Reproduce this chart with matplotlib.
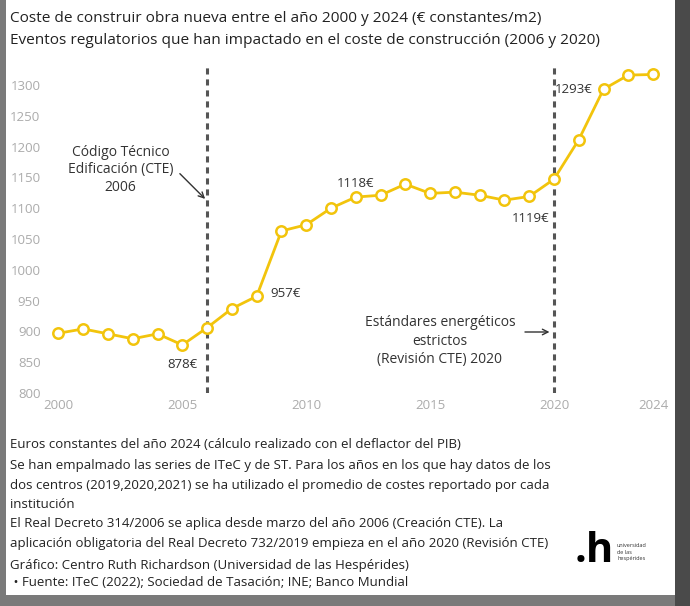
import matplotlib.pyplot as plt
from matplotlib.patches import Rectangle

plt.rcParams['font.family'] = ['Open Sans', 'DejaVu Sans']

# coste de construccion (EUR constantes 2024 / m2)
years = list(range(2000, 2025))
coste = [897, 904, 896, 888, 896, 878, 906, 937, 957, 1063, 1073, 1100, 1118,
         1121, 1139, 1124, 1126, 1121, 1113, 1119, 1147, 1211, 1293, 1316, 1317]
xticks = [2000, 2005, 2010, 2015, 2020, 2024]
yticks = [800, 850, 900, 950, 1000, 1050, 1100, 1150, 1200, 1250, 1300]
eventos = [2006, 2020]
# (year, value, label, dx, dy, ha, va)
etiquetas = [(2005, 878, '878€', 0, -14, 'center', 'center'),
             (2008, 957, '957€', 10, 2, 'left', 'center'),
             (2012, 1118, '1118€', 0, 10, 'center', 'center'),
             (2019, 1119, '1119€', 1, -16, 'center', 'center'),
             (2022, 1293, '1293€', -8, 0, 'right', 'center')]

gold = '#F2C40C'
dark = '#333333'

fig = plt.figure(figsize=(6.9, 6.06), dpi=100)
fig.patch.set_facecolor('#7a7a7a')
# white card + screenshot borders
fig.patches.append(Rectangle((6 / 690, 11 / 606), 669 / 690, 1 - 11 / 606,
                             transform=fig.transFigure, facecolor='white',
                             edgecolor='none', zorder=-2))
fig.patches.append(Rectangle((675 / 690, 0), 15 / 690, 1, transform=fig.transFigure,
                             facecolor='#4a4a4a', edgecolor='none', zorder=-2))

ax = fig.add_axes([0.0668, 0.3515, 0.8976, 0.5439])
ax.set_zorder(2)
ax.set_facecolor('none')
ax.plot(years, coste, color=gold, lw=2.0, marker='o', ms=7.5, mfc='white',
        mec=gold, mew=1.8, zorder=3)
for ev in eventos:
    ax.axvline(ev, color='#555555', lw=2.2, ls=(0, (2, 1.6)), zorder=2)

for x, y, txt, dx, dy, ha, va in etiquetas:
    ax.annotate(txt, (x, y), xytext=(dx, dy), textcoords='offset points',
                ha=ha, va=va, fontsize=9.5, color=dark, zorder=4)

ax.text(2002.5, 1162, 'Código Técnico\nEdificación (CTE)\n2006', ha='center',
        va='center', fontsize=10, color=dark, linespacing=1.25)
ax.annotate('', xy=(2005.92, 1115), xytext=(2004.9, 1156),
            arrowprops=dict(arrowstyle='->', color=dark, lw=1.0,
                            shrinkA=0, shrinkB=0))
ax.text(2015.4, 884, 'Estándares energéticos\nestrictos\n(Revisión CTE) 2020',
        ha='center', va='center', fontsize=10, color=dark, linespacing=1.3)
ax.annotate('', xy=(2019.82, 899), xytext=(2018.83, 899),
            arrowprops=dict(arrowstyle='->', color=dark, lw=1.0,
                            shrinkA=0, shrinkB=0))

ax.set_xlim(1999.5, 2024.5)
ax.set_ylim(800, 1335)
ax.set_xticks(xticks)
ax.set_yticks(yticks)
ax.tick_params(length=0, labelsize=9.5, colors='#ababab', pad=4)
for s in ax.spines.values():
    s.set_visible(False)

fig.text(10 / 690, 1 - 19 / 606,
         'Coste de construir obra nueva entre el año 2000 y 2024 (€ constantes/m2)',
         fontsize=11.1, color='#222222', va='center')
fig.text(10 / 690, 1 - 40 / 606,
         'Eventos regulatorios que han impactado en el coste de construcción (2006 y 2020)',
         fontsize=11.1, color='#222222', va='center')

notas = ['Euros constantes del año 2024 (cálculo realizado con el deflactor del PIB)',
         'Se han empalmado las series de ITeC y de ST. Para los años en los que hay datos de los',
         'dos centros (2019,2020,2021) se ha utilizado el promedio de costes reportado por cada',
         'institución',
         'El Real Decreto 314/2006 se aplica desde marzo del año 2006 (Creación CTE). La',
         'aplicación obligatoria del Real Decreto 732/2019 empieza en el año 2020 (Revisión CTE)',
         'Gráfico: Centro Ruth Richardson (Universidad de las Hespérides)',
         ' • Fuente: ITeC (2022); Sociedad de Tasación; INE; Banco Mundial']
ys = [444, 465, 485, 504, 524, 544, 565, 583]
for t, y in zip(notas, ys):
    fig.text(10 / 690, 1 - y / 606, t, fontsize=9.5, color='#222222', va='center')

fig.text(575 / 690, 1 - 551 / 606, '.h', fontsize=30, color='black',
         va='center', ha='left', fontweight='bold')
fig.text(617 / 690, 1 - 552 / 606, 'universidad\nde las\nhespérides', fontsize=4,
         color='#333333', va='center', ha='left', linespacing=1.3)

fig.savefig('out.png', dpi=100, facecolor=fig.get_facecolor())
